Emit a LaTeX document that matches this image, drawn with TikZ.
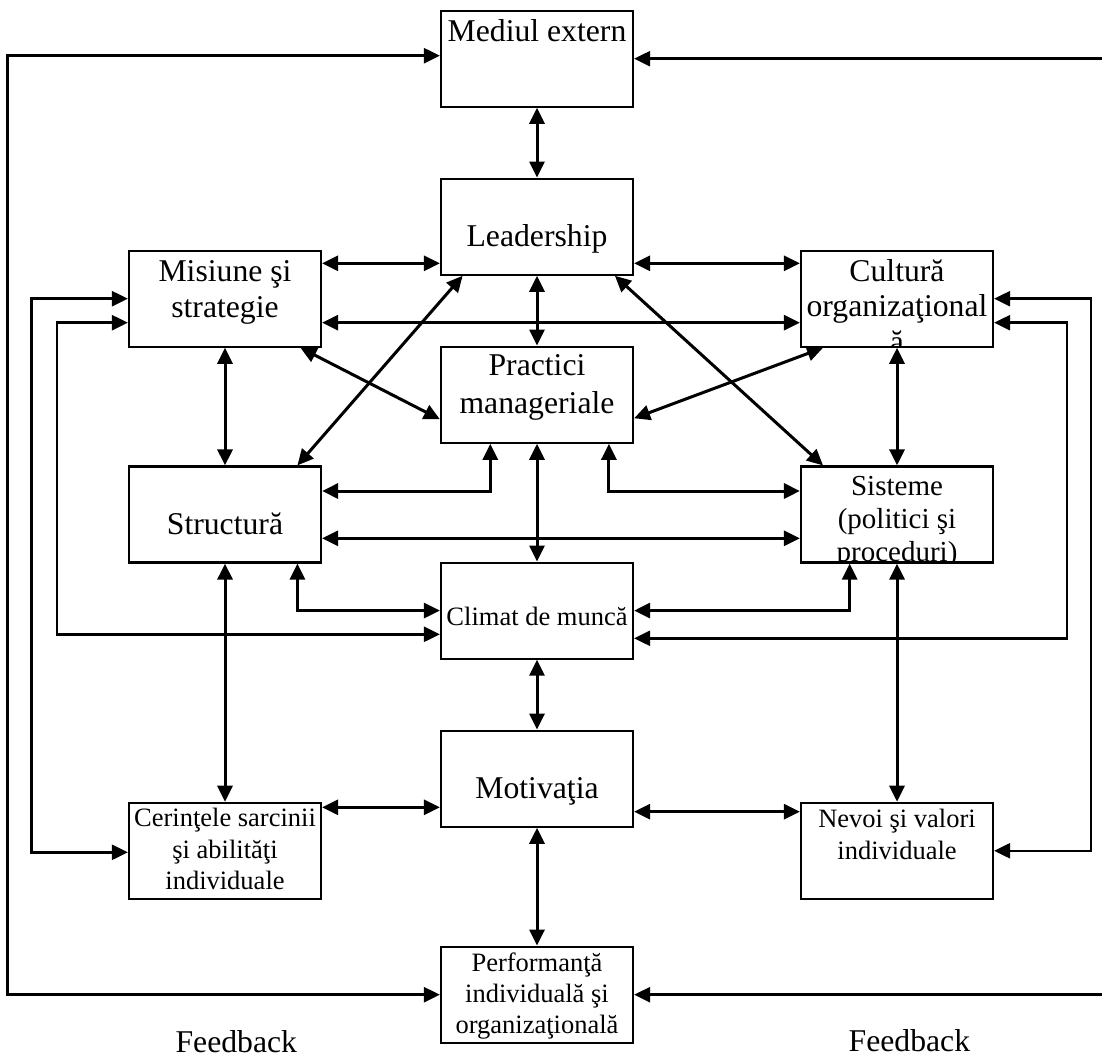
\documentclass[tikz,border=0pt]{standalone}
\usepackage{fontspec}
\setmainfont{Liberation Serif}
\usetikzlibrary{arrows.meta}
\begin{document}
\begin{tikzpicture}[x=1pt,y=-1pt,
  >={Triangle[length=16pt,width=15pt]},
  box/.style={draw, line width=2.2pt, minimum width=192pt, minimum height=96pt, inner sep=0pt},
  big/.style={inner sep=0pt, anchor=base, font=\fontsize{31.7pt}{36pt}\selectfont},
  mid/.style={inner sep=0pt, anchor=base, font=\fontsize{29pt}{33pt}\selectfont},
  small/.style={inner sep=0pt, anchor=base, font=\fontsize{26.5pt}{31pt}\selectfont},
  link/.style={line width=3pt, <->},
  loopback/.style={line width=2.5pt, <->}]
\useasboundingbox (0,0) rectangle (1102,1059);

% boxes
\node[box] (med)  at (537,58.7)  {};
\node[box] (lead) at (537,226.7) {};
\node[box] (prac) at (537,394.7) {};
\node[box] (cli)  at (537,610.6) {};
\node[box] (mot)  at (537,778.7) {};
\node[box] (perf) at (537,994.7) {};
\node[box] (mis)  at (225,298.7) {};
\node[box] (str)  at (225,514.5) {};
\node[box] (cer)  at (225,850.8) {};
\node[box] (cul)  at (897,298.7) {};
\node[box] (sis)  at (897,514.5) {};
\node[box] (nev)  at (897,850.8) {};

% labels
\node[big] (t-med)  at (537,41.7)  {Mediul extern};
\node[big] (t-lead) at (537,246.7) {Leadership};
\node[big] (t-mis1) at (225,281.7) {Misiune şi};
\node[big] (t-mis2) at (225,317)   {strategie};
\begin{scope}
  \clip (cul.north west) rectangle (cul.south east);
  \node[big] (t-cul1) at (897,281)   {Cultură};
  \node[big] (t-cul2) at (897,316.7) {organizaţional};
  \node[big] (t-cul3) at (897,352.5) {ă};
\end{scope}
\node[big] (t-prac1) at (537,375.5) {Practici};
\node[big] (t-prac2) at (537,413)   {manageriale};
\node[big] (t-str)   at (225,534)   {Structură};
\begin{scope}
  \clip (sis.north west) rectangle (sis.south east);
  \node[mid] (t-sis1) at (897,495)   {Sisteme};
  \node[mid] (t-sis2) at (897,528)   {(politici şi};
  \node[mid] (t-sis3) at (897,561) {proceduri)};
\end{scope}
\node[small] (t-cli)  at (537,625)   {Climat de muncă};
\node[big]   (t-mot)  at (537,798.3) {Motivaţia};
\node[small] (t-cer1) at (225,826.7) {Cerinţele sarcinii};
\node[small] (t-cer2) at (225,858.3) {şi abilităţi};
\node[small] (t-cer3) at (225,889.3) {individuale};
\node[small] (t-nev1) at (897,827.3) {Nevoi şi valori};
\node[small] (t-nev2) at (897,859.3) {individuale};
\node[small] (t-perf1) at (537,971.7)  {Performanţă};
\node[small] (t-perf2) at (537,1002.7) {individuală şi};
\node[small] (t-perf3) at (537,1033.3) {organizaţională};
\node[big] (fb-l) at (236.3,1052.5) {Feedback};
\node[big] (fb-r) at (909.4,1051.5) {Feedback};

% vertical links in the middle column
\draw[link] (med.south) -- (lead.north);
\draw[link] (lead.south) -- (prac.north);
\draw[link] (prac.south) -- (cli.north);
\draw[link] (cli.south) -- (mot.north);
\draw[link] (mot.south) -- (perf.north);

% vertical links in the side columns
\draw[link] (mis.south) -- (str.north);
\draw[link] (str.south) -- (cer.north);
\draw[link] (cul.south) -- (sis.north);
\draw[link] (sis.south) -- (nev.north);

% horizontal links
\draw[link] ([yshift=35.4pt]mis.east) -- ([yshift=-36.6pt]lead.west);
\draw[link] ([yshift=-36.6pt]lead.east) -- ([yshift=35.4pt]cul.west);
\draw[link] ([yshift=-24pt]mis.east) -- ([yshift=-24pt]cul.west);
\draw[link] ([yshift=-23.8pt]str.east) -- ([yshift=-23.8pt]sis.west);
\draw[link] ([yshift=43.5pt]cer.east) -- ([yshift=-28.6pt]mot.west);
\draw[link] ([yshift=-33pt]mot.east) -- ([yshift=39.1pt]nev.west);

% diagonal links
\draw[link] ([xshift=-74.4pt]lead.south) -- ([xshift=72.4pt]str.north);
\draw[link] ([xshift=77.9pt]lead.south) -- ([xshift=-74pt]sis.north);
\draw[link] ([xshift=75.5pt]mis.south) -- ([yshift=-24.6pt]prac.west);
\draw[link] ([xshift=-74pt]cul.south) -- ([yshift=-23.6pt]prac.east);

% elbow links
\draw[link] ([xshift=-46.7pt]prac.south) |- ([yshift=23.5pt]str.east);
\draw[link] ([xshift=71.9pt]prac.south) |- ([yshift=23.5pt]sis.west);
\draw[link] ([xshift=72.4pt]str.south) |- (cli.west);
\draw[link] ([xshift=-47.3pt]sis.south) |- (cli.east);

% feedback loops
\draw[loopback] ([yshift=3pt]med.west) -- ++(-432.3pt,0) |- (perf.west);
\draw[loopback] (med.east) -- ++(480pt,0) |- (perf.east);
\draw[loopback] (mis.west) -- ++(-96.2pt,0) |- ([yshift=-1.5pt]cer.west);
\draw[loopback] ([yshift=-24pt]mis.west) -- ++(-70.9pt,0) |- ([yshift=-23.7pt]cli.west);
\draw[loopback] (cul.east) -- ++(96.7pt,0) |- (nev.east);
\draw[loopback] ([yshift=-24pt]cul.east) -- ++(72.9pt,0) |- ([yshift=-27.7pt]cli.east);
\end{tikzpicture}
\end{document}
